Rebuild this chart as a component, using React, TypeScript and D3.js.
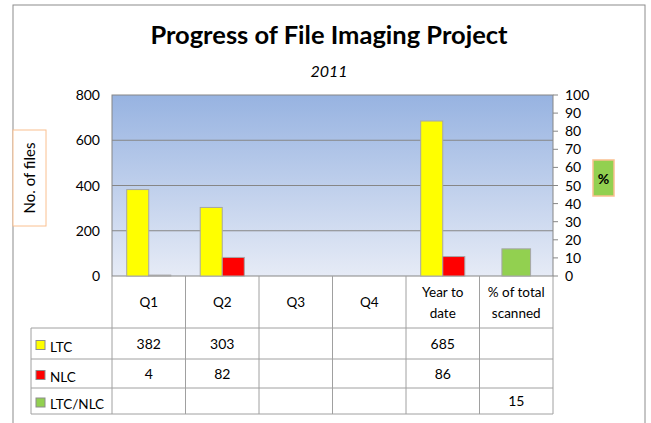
import * as d3 from "d3";

// chart data
const categories = ["Q1", "Q2", "Q3", "Q4", "Year to date", "% of total scanned"];
const headerLines = [["Q1"], ["Q2"], ["Q3"], ["Q4"], ["Year to", "date"], ["% of total", "scanned"]];
const ltc = [382, 303, null, null, 685, null];
const nlc = [4, 82, null, null, 86, null];
const pctScanned = [null, null, null, null, null, 15];
const leftTicks = [0, 200, 400, 600, 800];
const rightTicks = [0, 10, 20, 30, 40, 50, 60, 70, 80, 90, 100];

const W = 651;
const H = 423;
const plotL = 112;
const plotR = 553;
const plotT = 95;
const plotB = 276;
const tableL = 31;
const rowYs = [276, 328, 359, 388, 414];
const font = "Lato, 'Open Sans', sans-serif";
const colors = { LTC: "#FFFF00", NLC: "#FF0000", "LTC/NLC": "#92D050" };

export default function App() {
  const x = d3.scaleBand().domain(categories).range([plotL, plotR]).padding(0);
  const yL = d3.scaleLinear().domain([0, 800]).range([plotB, plotT]);
  const yR = d3.scaleLinear().domain([0, 100]).range([plotB, plotT]);
  const groupW = x.bandwidth() * 0.6;
  const x1 = d3.scaleBand().domain(["LTC", "NLC"]).range([0, groupW]);
  const greenW = x.bandwidth() * 0.39;

  const rows = [
    { name: "LTC", vals: ltc },
    { name: "NLC", vals: nlc },
    { name: "LTC/NLC", vals: pctScanned },
  ];

  return (
    <svg width={W} height={H} style={{ position: "fixed", left: 0, top: 0, background: "#fff" }} fontFamily={font}>
      <defs>
        <linearGradient id="bg" x1="0" y1="0" x2="0" y2="1">
          <stop offset="0%" stopColor="#97B3E1" />
          <stop offset="100%" stopColor="#E6EBF6" />
        </linearGradient>
      </defs>
      {/* outer frame */}
      <rect x={13} y={5} width={632} height={430} fill="#fff" stroke="#8C8C8C" strokeWidth={1} />

      <text x={329} y={44} textAnchor="middle" fontSize={25.5} fontWeight="bold" fill="#000">
        Progress of File Imaging Project
      </text>
      <text x={329} y={77} textAnchor="middle" fontSize={16} fontStyle="italic" fill="#000">
        2011
      </text>

      {/* plot area */}
      <rect x={plotL} y={plotT} width={plotR - plotL} height={plotB - plotT} fill="url(#bg)" stroke="#868686" />
      {leftTicks.slice(1, -1).map((t) => (
        <line key={t} x1={plotL} x2={plotR} y1={yL(t)} y2={yL(t)} stroke="#868686" />
      ))}

      {/* bars */}
      {categories.map((c, i) => (
        <g key={c}>
          {ltc[i] != null && (
            <rect x={x(c)! + (x.bandwidth() - groupW) / 2 + x1("LTC")!} y={yL(ltc[i]!)} width={x1.bandwidth()}
              height={plotB - yL(ltc[i]!)} fill={colors.LTC} stroke="#A6A6A6" strokeWidth={1} />
          )}
          {nlc[i] != null && (
            <rect x={x(c)! + (x.bandwidth() - groupW) / 2 + x1("NLC")!} y={yL(nlc[i]!)} width={x1.bandwidth()}
              height={plotB - yL(nlc[i]!)} fill={colors.NLC} stroke="#A6A6A6" strokeWidth={1} />
          )}
          {pctScanned[i] != null && (
            <rect x={x(c)! + (x.bandwidth() - greenW) / 2} y={yR(pctScanned[i]!)} width={greenW}
              height={plotB - yR(pctScanned[i]!)} fill={colors["LTC/NLC"]} stroke="#A6A6A6" strokeWidth={1} />
          )}
        </g>
      ))}

      {/* left axis */}
      {leftTicks.map((t) => (
        <text key={t} x={100} y={yL(t) + 5} textAnchor="end" fontSize={14} fill="#000">{t}</text>
      ))}
      {/* right axis */}
      {rightTicks.map((t) => (
        <g key={t}>
          <line x1={plotR} x2={plotR + 5} y1={yR(t)} y2={yR(t)} stroke="#868686" />
          <text x={565} y={yR(t) + 5} fontSize={14} fill="#000">{t}</text>
        </g>
      ))}

      {/* axis title boxes */}
      <rect x={13} y={130} width={33} height={96} fill="#fff" stroke="#FAC090" />
      <text transform="translate(35,178) rotate(-90)" textAnchor="middle" fontSize={15} fill="#000">No. of files</text>
      <rect x={593} y={160} width={21} height={36} fill="#92D050" stroke="#FAC090" strokeWidth={1.5} />
      <text x={603.5} y={184} textAnchor="middle" fontSize={14} fontWeight="bold" fill="#000">%</text>

      {/* data table */}
      {categories.map((c) => (
        <line key={c} x1={x(c)!} x2={x(c)!} y1={plotB} y2={rowYs[4]} stroke="#A0A0A0" />
      ))}
      <line x1={plotR} x2={plotR} y1={plotB} y2={rowYs[4]} stroke="#A0A0A0" />
      <line x1={tableL} x2={tableL} y1={rowYs[1]} y2={rowYs[4]} stroke="#A0A0A0" />
      {rowYs.slice(1).map((y) => (
        <line key={y} x1={tableL} x2={plotR} y1={y} y2={y} stroke="#A0A0A0" />
      ))}
      {categories.map((c, i) => {
        const lines = headerLines[i];
        const cy = (rowYs[0] + rowYs[1]) / 2;
        return (
          <text key={c} x={x(c)! + x.bandwidth() / 2} textAnchor="middle" fontSize={13.5} fill="#000">
            {lines.map((l, j) => (
              <tspan key={j} x={x(c)! + x.bandwidth() / 2} y={cy + 5 + (j - (lines.length - 1) / 2) * 21}>{l}</tspan>
            ))}
          </text>
        );
      })}
      {rows.map((r, ri) => {
        const cy = (rowYs[ri + 1] + rowYs[ri + 2]) / 2;
        return (
          <g key={r.name}>
            <rect x={36} y={cy - 3} width={9} height={9} fill={colors[r.name as keyof typeof colors]} stroke="#8C8C8C" />
            <text x={50} y={cy + 8} fontSize={13.5} fill="#000">{r.name}</text>
            {r.vals.map((v, i) =>
              v == null ? null : (
                <text key={i} x={x(categories[i])! + x.bandwidth() / 2} y={cy + 5} textAnchor="middle" fontSize={14} fill="#000">
                  {v}
                </text>
              )
            )}
          </g>
        );
      })}
    </svg>
  );
}
